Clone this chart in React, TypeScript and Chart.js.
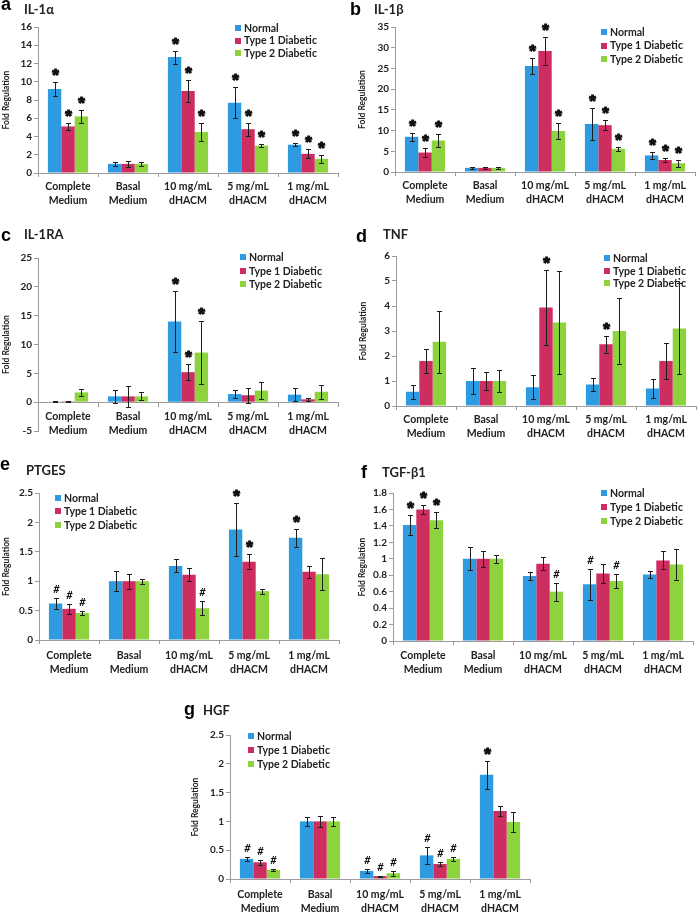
import React, { useEffect, useRef } from "react";
import { Chart, registerables } from "chart.js";

Chart.register(...registerables);

// ---------- shared data ----------
const categories = [
  ["Complete", "Medium"],
  ["Basal", "Medium"],
  ["10 mg/mL", "dHACM"],
  ["5 mg/mL", "dHACM"],
  ["1 mg/mL", "dHACM"],
];
const seriesNames = ["Normal", "Type 1 Diabetic", "Type 2 Diabetic"];
const seriesColors = ["#2e9ae0", "#cd2d5f", "#8dd33d"];

// ---------- a: IL-1α ----------
const il1aValues = [
  [9.2, 1.0, 12.7, 7.7, 3.1],
  [5.1, 1.0, 9.0, 4.8, 2.1],
  [6.2, 1.0, 4.5, 3.0, 1.55],
];
const il1aErrors = [
  [0.8, 0.2, 0.7, 1.7, 0.15],
  [0.35, 0.3, 1.2, 0.7, 0.5],
  [0.75, 0.2, 1.0, 0.2, 0.45],
];
const il1aMarks = [
  ["*", "", "*", "*", "*"],
  ["*", "", "*", "*", "*"],
  ["*", "", "*", "*", "*"],
];
const il1aTicks = { min: 0, max: 16, step: 2 };

// ---------- b: IL-1β ----------
const il1bValues = [
  [8.5, 1.0, 25.6, 11.6, 4.0],
  [4.7, 1.0, 29.2, 11.3, 2.9],
  [7.6, 1.0, 9.9, 5.6, 2.1],
];
const il1bErrors = [
  [1.0, 0.2, 1.9, 3.9, 0.8],
  [1.1, 0.2, 3.4, 1.2, 0.6],
  [1.5, 0.2, 2.0, 0.5, 0.9],
];
const il1bMarks = [
  ["*", "", "*", "*", "*"],
  ["*", "", "*", "*", "*"],
  ["*", "", "*", "*", "*"],
];
const il1bTicks = { min: 0, max: 35, step: 5 };

// ---------- c: IL-1RA ----------
const il1raValues = [
  [0.1, 1.0, 14.0, 1.4, 1.3],
  [0.15, 1.0, 5.2, 1.2, 0.5],
  [1.7, 1.0, 8.6, 2.0, 1.8],
];
const il1raErrors = [
  [0.1, 1.1, 5.3, 0.7, 1.1],
  [0.1, 1.8, 1.4, 1.3, 0.3],
  [0.6, 0.7, 5.4, 1.5, 1.2],
];
const il1raMarks = [
  ["", "", "*", "", ""],
  ["", "", "*", "", ""],
  ["", "", "*", "", ""],
];
const il1raTicks = { min: -5, max: 25, step: 5 };

// ---------- d: TNF ----------
const tnfValues = [
  [0.57, 1.0, 0.75, 0.86, 0.7],
  [1.8, 1.0, 3.94, 2.47, 1.8],
  [2.57, 1.0, 3.34, 3.0, 3.1],
];
const tnfErrors = [
  [0.27, 0.53, 0.48, 0.25, 0.37],
  [0.47, 0.35, 1.5, 0.35, 0.73],
  [1.25, 0.45, 2.06, 1.33, 1.8],
];
const tnfMarks = [
  ["", "", "", "", ""],
  ["", "", "*", "*", ""],
  ["", "", "", "", ""],
];
const tnfTicks = { min: 0, max: 6, step: 1 };

// ---------- e: PTGES ----------
const ptgesValues = [
  [0.62, 1.0, 1.26, 1.88, 1.74],
  [0.53, 1.0, 1.11, 1.33, 1.16],
  [0.46, 1.0, 0.54, 0.83, 1.12],
];
const ptgesErrors = [
  [0.1, 0.17, 0.11, 0.45, 0.15],
  [0.08, 0.13, 0.11, 0.13, 0.1],
  [0.03, 0.04, 0.12, 0.04, 0.27],
];
const ptgesMarks = [
  ["#", "", "", "*", "*"],
  ["#", "", "", "*", ""],
  ["#", "", "#", "", ""],
];
const ptgesTicks = { min: 0, max: 2.5, step: 0.5 };

// ---------- f: TGF-β1 ----------
const tgfValues = [
  [1.41, 1.0, 0.79, 0.69, 0.81],
  [1.6, 1.0, 0.94, 0.82, 0.98],
  [1.47, 1.0, 0.6, 0.73, 0.93],
];
const tgfErrors = [
  [0.12, 0.14, 0.05, 0.19, 0.04],
  [0.05, 0.1, 0.08, 0.12, 0.11],
  [0.1, 0.05, 0.11, 0.08, 0.19],
];
const tgfMarks = [
  ["*", "", "", "#", ""],
  ["*", "", "", "", ""],
  ["*", "", "#", "#", ""],
];
const tgfTicks = { min: 0, max: 1.8, step: 0.2 };

// ---------- g: HGF ----------
const hgfValues = [
  [0.35, 1.0, 0.14, 0.41, 1.81],
  [0.29, 1.0, 0.05, 0.26, 1.18],
  [0.16, 1.0, 0.1, 0.35, 0.99],
];
const hgfErrors = [
  [0.04, 0.08, 0.04, 0.15, 0.24],
  [0.04, 0.1, 0.01, 0.03, 0.08],
  [0.02, 0.08, 0.04, 0.04, 0.18],
];
const hgfMarks = [
  ["#", "", "#", "#", "*"],
  ["#", "", "#", "#", ""],
  ["#", "", "#", "#", ""],
];
const hgfTicks = { min: 0, max: 2.5, step: 0.5 };

// ---------- styling / layout ----------
const FONT = 'Lato, "Open Sans", sans-serif';
const TXT = "#222222";
const AXIS = "#9c9c9c";

type Box = { x: number; y: number; w: number; h: number };
type Area = { l: number; t: number; r: number; b: number };

const panels = [
  {
    letter: "a", title: "IL-1α", values: il1aValues, errors: il1aErrors, marks: il1aMarks, ticks: il1aTicks,
    box: { x: 0, y: 0, w: 349, h: 212 }, area: { l: 38, t: 27, r: 338, b: 173 },
    legend: { x: 235, y: 28, dy: 12.5 }, yTitleX: 6, letterPos: { x: 1, y: 9.5 }, titlePos: { x: 24, y: 14 }, xPad: 3, xAtZero: false,
  },
  {
    letter: "b", title: "IL-1β", values: il1bValues, errors: il1bErrors, marks: il1bMarks, ticks: il1bTicks,
    box: { x: 350, y: 0, w: 350, h: 212 }, area: { l: 395, t: 27, r: 695, b: 172 },
    legend: { x: 601, y: 32, dy: 13.5 }, yTitleX: 362, letterPos: { x: 350, y: 15 }, titlePos: { x: 374, y: 13.5 }, xPad: 3, xAtZero: false,
  },
  {
    letter: "c", title: "IL-1RA", values: il1raValues, errors: il1raErrors, marks: il1raMarks, ticks: il1raTicks,
    box: { x: 0, y: 222, w: 349, h: 222 }, area: { l: 38, t: 258, r: 338, b: 431 },
    legend: { x: 240, y: 257, dy: 13.7 }, yTitleX: 6, letterPos: { x: 1, y: 241 }, titlePos: { x: 24, y: 239 }, xPad: 3, xAtZero: true,
  },
  {
    letter: "d", title: "TNF", values: tnfValues, errors: tnfErrors, marks: tnfMarks, ticks: tnfTicks,
    box: { x: 350, y: 222, w: 350, h: 222 }, area: { l: 396, t: 256, r: 696, b: 406 },
    legend: { x: 604, y: 258.3, dy: 12.5 }, yTitleX: 363, letterPos: { x: 356, y: 242 }, titlePos: { x: 383, y: 239 }, xPad: 2.5, xAtZero: false,
  },
  {
    letter: "e", title: "PTGES", values: ptgesValues, errors: ptgesErrors, marks: ptgesMarks, ticks: ptgesTicks,
    box: { x: 0, y: 452, w: 349, h: 228 }, area: { l: 39, t: 493, r: 339, b: 640 },
    legend: { x: 55, y: 497.7, dy: 13.7 }, yTitleX: 6, letterPos: { x: 0, y: 470 }, titlePos: { x: 26, y: 474.5 }, xPad: 4.5, xAtZero: false,
  },
  {
    letter: "f", title: "TGF-β1", values: tgfValues, errors: tgfErrors, marks: tgfMarks, ticks: tgfTicks,
    box: { x: 350, y: 452, w: 350, h: 228 }, area: { l: 393, t: 493, r: 693, b: 641 },
    legend: { x: 601, y: 493.3, dy: 13.7 }, yTitleX: 362, letterPos: { x: 361, y: 478 }, titlePos: { x: 382, y: 476.5 }, xPad: 4, xAtZero: false,
  },
  {
    letter: "g", title: "HGF", values: hgfValues, errors: hgfErrors, marks: hgfMarks, ticks: hgfTicks,
    box: { x: 175, y: 690, w: 360, h: 222 }, area: { l: 230, t: 735, r: 530, b: 879 },
    legend: { x: 248, y: 735.7, dy: 14 }, yTitleX: 195, letterPos: { x: 184, y: 714.5 }, titlePos: { x: 203, y: 715 }, xPad: 4.5, xAtZero: false,
  },
];

const fmt = (v: number) => String(Math.round(v * 100) / 100);

const decor = {
  id: "decor",
  afterDatasetsDraw(chart: any, _args: any, o: any) {
    const ctx = chart.ctx;
    const ys = chart.scales.y;
    ctx.save();
    chart.data.datasets.forEach((ds: any, i: number) => {
      const meta = chart.getDatasetMeta(i);
      meta.data.forEach((el: any, j: number) => {
        const v = ds.data[j];
        const e = ds.errors[j];
        const x = Math.round(el.x) + 0.5;
        const yt = Math.round(ys.getPixelForValue(v + e)) + 0.5;
        const yb = Math.round(ys.getPixelForValue(v - e)) + 0.5;
        ctx.strokeStyle = "#1e1e1e";
        ctx.lineWidth = 1;
        ctx.beginPath();
        ctx.moveTo(x, yt);
        ctx.lineTo(x, yb);
        ctx.moveTo(x - 2.5, yt);
        ctx.lineTo(x + 2.5, yt);
        ctx.moveTo(x - 2.5, yb);
        ctx.lineTo(x + 2.5, yb);
        ctx.stroke();
        const m = ds.marks[j];
        if (m) {
          const cy = yt - 10;
          ctx.font = m === "*" ? 'bold 17px "Liberation Sans"' : "italic bold 11px " + FONT;
          const mm = ctx.measureText(m);
          ctx.textAlign = "center";
          ctx.textBaseline = "alphabetic";
          ctx.fillStyle = "#111111";
          const by = cy + (mm.actualBoundingBoxAscent - mm.actualBoundingBoxDescent) / 2;
          ctx.fillText(m, x, by);
          if (m === "*") {
            ctx.lineWidth = 1.2;
            ctx.strokeStyle = "#111111";
            ctx.strokeText(m, x, by);
          }
        }
      });
    });
    ctx.restore();
  },
  afterDraw(chart: any, _args: any, o: any) {
    const ctx = chart.ctx;
    const bx = o.box.x;
    const by = o.box.y;
    ctx.save();
    // legend
    ctx.font = "bold 10.5px " + FONT;
    ctx.textBaseline = "middle";
    ctx.textAlign = "left";
    chart.data.datasets.forEach((ds: any, i: number) => {
      const cy = o.legend.y + i * o.legend.dy - by;
      const lx = o.legend.x - bx;
      ctx.fillStyle = ds.backgroundColor;
      ctx.fillRect(lx, Math.round(cy - 3), 6, 6);
      ctx.fillStyle = TXT;
      ctx.fillText(ds.label, lx + 9, cy + 0.5);
    });
    // y axis title
    const ca = chart.chartArea;
    ctx.save();
    ctx.translate(o.yTitleX - bx, (ca.top + ca.bottom) / 2);
    ctx.rotate(-Math.PI / 2);
    ctx.font = "bold 8.5px " + FONT;
    ctx.textAlign = "center";
    ctx.textBaseline = "middle";
    ctx.fillStyle = TXT;
    ctx.fillText("Fold Regulation", 0, 0);
    ctx.restore();
    // panel letter and title
    ctx.textBaseline = "alphabetic";
    ctx.textAlign = "left";
    ctx.fillStyle = "#000000";
    ctx.font = 'bold 18px "Liberation Sans"';
    ctx.fillText(o.letter, o.letterPos.x - bx, o.letterPos.y - by);
    ctx.fillStyle = TXT;
    ctx.font = "bold 13px " + FONT;
    ctx.fillText(o.title, o.titlePos.x - bx, o.titlePos.y - by);
    ctx.restore();
  },
};

function Panel({ p }: { p: (typeof panels)[number] }) {
  const ref = useRef<HTMLCanvasElement | null>(null);
  useEffect(() => {
    const box: Box = p.box;
    const area: Area = p.area;
    const tickFont = { family: FONT, weight: "bold" as const, size: 10 };
    const chart = new Chart(ref.current as HTMLCanvasElement, {
      type: "bar",
      data: {
        labels: categories,
        datasets: seriesNames.map((name, i) => ({
          label: name,
          data: p.values[i],
          errors: p.errors[i],
          marks: p.marks[i],
          backgroundColor: seriesColors[i],
          borderWidth: 0,
          barPercentage: 1.0,
          categoryPercentage: 0.67,
        })) as any,
      },
      options: {
        responsive: false,
        animation: false,
        devicePixelRatio: 1,
        layout: {
          padding: {
            left: 0,
            top: area.t - box.y,
            right: box.x + box.w - area.r,
            bottom: p.xAtZero ? box.y + box.h - area.b : 0,
          },
        },
        plugins: {
          legend: { display: false },
          tooltip: { enabled: false },
          decor: {
            box,
            legend: p.legend,
            yTitleX: p.yTitleX,
            letter: p.letter,
            title: p.title,
            letterPos: p.letterPos,
            titlePos: p.titlePos,
          },
        } as any,
        scales: {
          x: {
            type: "category",
            position: (p.xAtZero ? { y: 0 } : "bottom") as any,
            grid: {
              display: true,
              drawOnChartArea: false,
              drawTicks: true,
              tickLength: 4,
              color: AXIS,
              offset: true,
            },
            border: { display: true, color: AXIS, width: 1 },
            ticks: {
              font: { family: FONT, weight: "bold", size: 10.5, lineHeight: 1.33 },
              color: TXT,
              padding: p.xPad,
              maxRotation: 0,
              autoSkip: false,
            },
            afterFit: p.xAtZero
              ? undefined
              : (s: any) => {
                  s.height = box.y + box.h - area.b;
                },
          } as any,
          y: {
            min: p.ticks.min,
            max: p.ticks.max,
            ticks: {
              stepSize: p.ticks.step,
              font: tickFont,
              color: TXT,
              padding: 2,
              callback: (v: any) => fmt(Number(v)),
            },
            grid: { display: true, drawOnChartArea: false, tickLength: 4, color: AXIS },
            border: { display: true, color: AXIS, width: 1 },
            afterFit: (s: any) => {
              s.width = area.l - box.x;
            },
          } as any,
        },
      },
      plugins: [decor as any],
    });
    return () => chart.destroy();
  }, []);
  return (
    <canvas
      ref={ref}
      width={p.box.w}
      height={p.box.h}
      style={{ position: "absolute", left: p.box.x, top: p.box.y, width: p.box.w, height: p.box.h }}
    />
  );
}

export default function App() {
  return (
    <div style={{ position: "absolute", left: 0, top: 0, width: 700, height: 912, background: "#ffffff", overflow: "hidden" }}>
      {panels.map((p) => (
        <Panel key={p.letter} p={p} />
      ))}
    </div>
  );
}
